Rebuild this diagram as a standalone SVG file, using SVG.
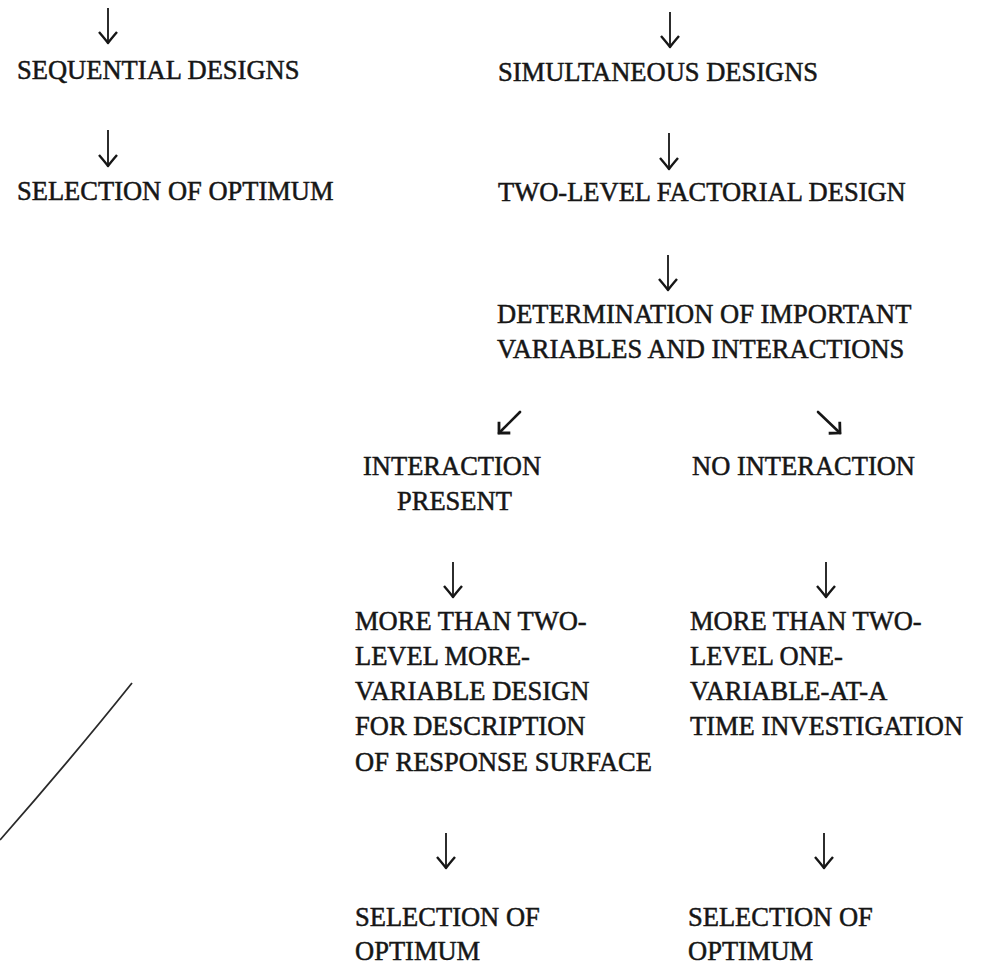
<svg xmlns="http://www.w3.org/2000/svg" width="984" height="965" viewBox="0 0 984 965">
<style>
.t{font-family:"Liberation Serif","Times New Roman",serif;font-size:26.5px;fill:#161616;stroke:#161616;stroke-width:0.5}
.c{stroke:#161616;stroke-width:1.8;fill:none}
.d{stroke:#161616;stroke-width:2.6;fill:none;stroke-linecap:round}
</style>
<defs>
<marker id="ah" markerUnits="userSpaceOnUse" viewBox="0 0 24 24" markerWidth="24" markerHeight="24" refX="12" refY="12" orient="auto" overflow="visible">
<path d="M1,3 Q8,9 12,12 Q8,15 1,21" fill="none" stroke="#161616" stroke-width="2.4" stroke-linejoin="round"/>
</marker>
<marker id="ad" markerUnits="userSpaceOnUse" viewBox="0 0 24 24" markerWidth="24" markerHeight="24" refX="12" refY="12" orient="auto" overflow="visible">
<path d="M4,4 L12,12 L4,20" fill="none" stroke="#161616" stroke-width="2.8" stroke-linejoin="miter"/>
</marker>
</defs>
<rect width="984" height="965" fill="#ffffff"/>
<g id="connectors">
<line class="c" x1="108" y1="8" x2="108" y2="43" marker-end="url(#ah)"/>
<line class="c" x1="108" y1="130" x2="108" y2="166" marker-end="url(#ah)"/>
<line class="c" x1="670" y1="12" x2="670" y2="47" marker-end="url(#ah)"/>
<line class="c" x1="669" y1="133" x2="669" y2="169" marker-end="url(#ah)"/>
<line class="c" x1="668" y1="255" x2="668" y2="290" marker-end="url(#ah)"/>
<line class="d" x1="520" y1="412" x2="499" y2="433" marker-end="url(#ad)"/>
<line class="d" x1="818" y1="412" x2="840" y2="433" marker-end="url(#ad)"/>
<line class="c" x1="453" y1="562" x2="453" y2="597" marker-end="url(#ah)"/>
<line class="c" x1="826" y1="562" x2="826" y2="597" marker-end="url(#ah)"/>
<line class="c" x1="446" y1="833" x2="446" y2="868" marker-end="url(#ah)"/>
<line class="c" x1="824" y1="833" x2="824" y2="868" marker-end="url(#ah)"/>
<path d="M132,683 C112,708 72,758 0,840" fill="none" stroke="#2a2a2a" stroke-width="1.8"/>
</g>
<g id="sequential"><text class="t" x="17" y="79">SEQUENTIAL DESIGNS</text></g>
<g id="selection-left"><text class="t" x="17" y="200">SELECTION OF OPTIMUM</text></g>
<g id="simultaneous"><text class="t" x="498" y="81">SIMULTANEOUS DESIGNS</text></g>
<g id="two-level"><text class="t" x="498" y="201">TWO-LEVEL FACTORIAL DESIGN</text></g>
<g id="determination">
<text class="t" x="497" y="323">DETERMINATION OF IMPORTANT</text>
<text class="t" x="497" y="358">VARIABLES AND INTERACTIONS</text>
</g>
<g id="interaction-present">
<text class="t" x="363" y="475">INTERACTION</text>
<text class="t" x="397" y="510">PRESENT</text>
</g>
<g id="no-interaction"><text class="t" x="692" y="475">NO INTERACTION</text></g>
<g id="more-variable">
<text class="t" x="355" y="630">MORE THAN TWO-</text>
<text class="t" x="355" y="665">LEVEL MORE-</text>
<text class="t" x="355" y="700">VARIABLE DESIGN</text>
<text class="t" x="355" y="735">FOR DESCRIPTION</text>
<text class="t" x="355" y="771">OF RESPONSE SURFACE</text>
</g>
<g id="one-variable">
<text class="t" x="690" y="630">MORE THAN TWO-</text>
<text class="t" x="690" y="665">LEVEL ONE-</text>
<text class="t" x="690" y="700">VARIABLE-AT-A</text>
<text class="t" x="690" y="735">TIME INVESTIGATION</text>
</g>
<g id="selection-mid">
<text class="t" x="355" y="926">SELECTION OF</text>
<text class="t" x="355" y="960">OPTIMUM</text>
</g>
<g id="selection-right">
<text class="t" x="688" y="926">SELECTION OF</text>
<text class="t" x="688" y="960">OPTIMUM</text>
</g>
</svg>
